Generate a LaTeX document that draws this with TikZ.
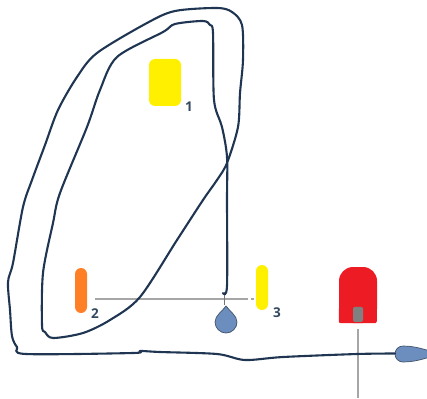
\documentclass[tikz,border=0pt]{standalone}
\usepackage{fontspec}
\setmainfont{Open Sans}
\usetikzlibrary{positioning}
\definecolor{cwire}{HTML}{1F3551}
\definecolor{cled}{HTML}{FFF000}
\definecolor{corange}{HTML}{FF7F27}
\definecolor{cred}{HTML}{ED1C24}
\definecolor{crail}{HTML}{A6A6A6}
\definecolor{cdrop}{HTML}{6C8EBF}
\definecolor{cnum}{HTML}{34495F}
\tikzset{
  every picture/.style={x=1pt, y=-1pt},
  wire/.style={cwire, line width=2.1pt, line join=round, line cap=round},
  bar/.style={rounded corners=6pt, minimum width=12pt, inner sep=0pt, outer sep=0pt},
  num/.style={text=cnum, font=\fontsize{13.5}{13.5}\selectfont\bfseries, inner sep=0pt},
  rail/.style={crail, line width=1.6pt},
  drop/.style={fill=cdrop, draw=cwire!85, line width=0.7pt},
}
% teardrop, tip pointing up, centre of the round part at the origin
% #1 = radius of the round part, #2 = distance to the tip
\newcommand{\waterdrop}[2]{%
  \path[drop] (0,-#2) .. controls (#1*0.3,-#2*0.7) and (#1,-#2*0.4) .. (#1,0)
    arc[start angle=0, end angle=180, radius=#1]
    .. controls (-#1,-#2*0.4) and (-#1*0.3,-#2*0.7) .. cycle;
}

\begin{document}
\begin{tikzpicture}
  \useasboundingbox (0,0) rectangle (427,398);
  % lamps
  \node[bar, fill=cled, minimum width=32pt, minimum height=47pt] (lamp1) at (165,82.5) {};
  \node[bar, fill=corange, minimum height=45pt] (lamp2) at (81,290.5) {};
  \node[bar, fill=cled, minimum height=45pt] (lamp3) at (262,287.5) {};
  \node[num, right=4pt of lamp1.south east, anchor=south west, yshift=-6pt] (n1) {1};
  \node[num, right=4pt of lamp2.south east, anchor=south west, yshift=-6pt] (n2) {2};
  \node[num, right=5pt of lamp3.south east, anchor=south west, yshift=-8pt] (n3) {3};
  % red lamp with its socket
  \node[fill=cred, minimum width=38pt, minimum height=56pt, inner sep=0pt,
    rounded corners=14pt] (lamp4) at (358,295) {};
  \fill[cred] (lamp4.south west) [rounded corners=2pt] -- ++(0,-16) [sharp corners]
    -- ++(38,0) [rounded corners=2pt] -- ++(0,16) -- cycle;
  \node[fill=gray, minimum width=10pt, minimum height=15pt, inner sep=0pt,
    rounded corners=1.5pt, anchor=south] (socket) at (358,322) {};
  \coordinate (pole) at (358,329);
  \draw[rail] (pole) -- (358,398);
  % rail between lamp 2 and lamp 3
  \coordinate (railA) at (95,299);
  \coordinate (railB) at (248,299);
  \draw[rail] (railA) -- (railB);
  \draw[rail] (251,299) -- (254,299);
  \draw[crail!70!black, line width=1pt] (224,292) -- (224,305);
  % drops
  \begin{scope}[shift={(226,322)}]
    \waterdrop{11}{16}
  \end{scope}
  \begin{scope}[shift={(403,354)}, rotate=-90]
    \waterdrop{8}{38}
  \end{scope}
  \coordinate (feed) at (223,293);
  \coordinate (outlet) at (395,353.5);
  % the looping wire
  \draw[wire] plot[smooth, tension=0.5] coordinates {
    (feed) (227,286) (227,200) (227,157) (222,127) (214,100) (213,33) (210,25)
    (203,21) (175,24) (163,32) (117,57) (100,90) (87,127) (60,193) (53,223)
    (43,273) (42,325) (45,332) (53,338) (83,333) (110,320) (140,297)
    (177,240) (203,200) (217,180) (227,163) (238,127) (240,93) (243,60)
    (242,25) (232,12) (217,8) (175,11) (147,23) (97,53) (77,77) (58,110)
    (45,145) (32,180) (23,207) (13,263) (8,282) (10,310) (12,336) (17,347)
    (26,354) (133,353) (140,351) (160,352) (217,354) (245,360) (283,357)
    (357,354) (outlet)};
\end{tikzpicture}
\end{document}
